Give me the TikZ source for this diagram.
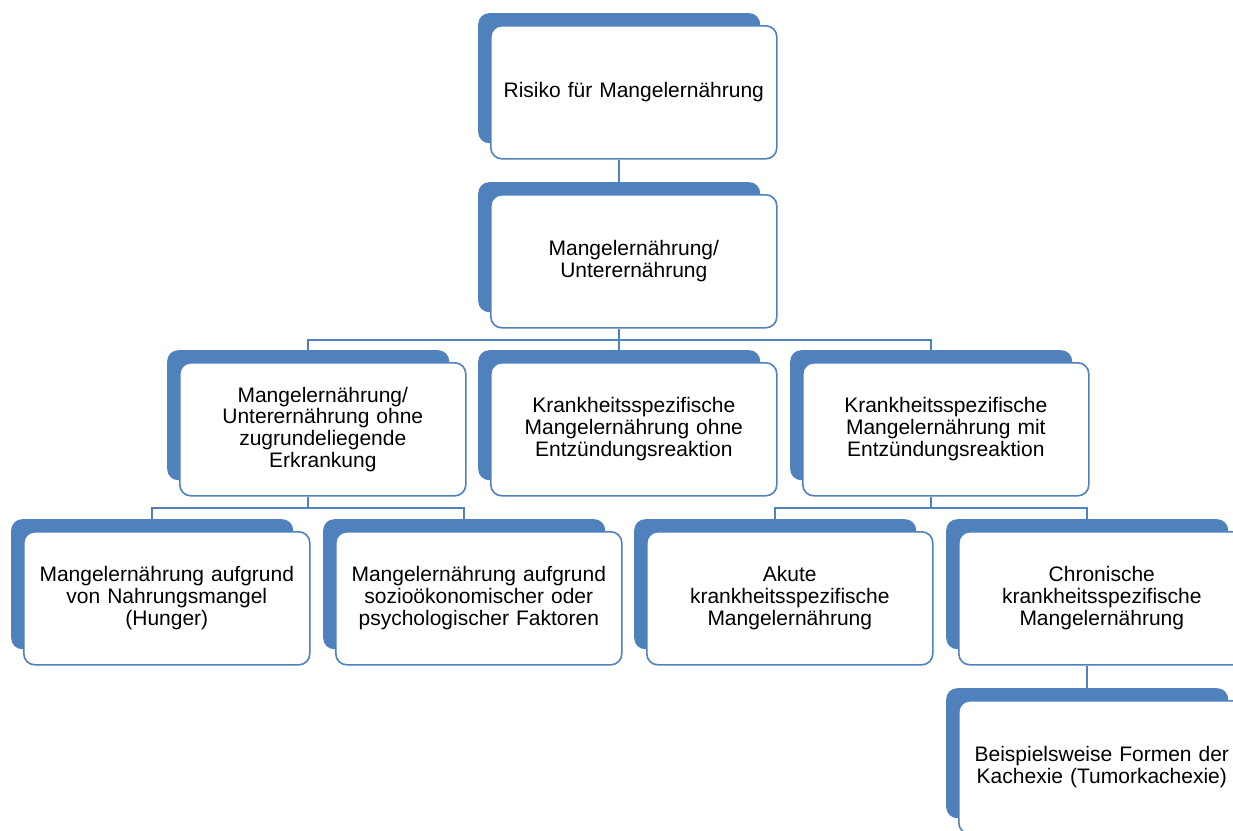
\documentclass[tikz,border=0pt]{standalone}
\usepackage{fontspec}
\setmainfont{Liberation Sans}
\definecolor{accblue}{HTML}{4F81BD}
\tikzset{
  backbox/.style={fill=accblue, draw=none, rounded corners=11pt, minimum width=282pt, minimum height=130pt, anchor=north west, inner sep=0pt},
  frontbox/.style={fill=white, draw=accblue, line width=1.6pt, rounded corners=11pt, minimum width=286pt, minimum height=133pt, anchor=north west, inner sep=0pt, align=center, text width=264pt, font=\fontsize{21}{21.8}\selectfont},
  conn/.style={draw=accblue, line width=1.8pt}
}
\newcommand\mkbox[4]{%
  \node[backbox] (#1b) at ({#2pt-12pt},{-#3pt+12pt}) {};
  \node[frontbox] (#1) at (#2pt,-#3pt) {#4};
}
\begin{document}
\begin{tikzpicture}
\useasboundingbox (0,0) rectangle (1233pt,-830pt);
\mkbox{top}{490}{25}{Risiko für Mangelernährung}
\mkbox{mu}{490}{194}{Mangelernährung/\\Unterernährung}
\mkbox{a}{179}{362}{Mangelernährung/\\Unterernährung ohne\\zugrundeliegende\\Erkrankung}
\mkbox{b}{490}{362}{Krankheitsspezifische\\Mangelernährung ohne\\Entzündungsreaktion}
\mkbox{c}{802}{362}{Krankheitsspezifische\\Mangelernährung mit\\Entzündungsreaktion}
\mkbox{d}{23}{531}{Mangelernährung aufgrund\\von Nahrungsmangel\\(Hunger)}
\mkbox{e}{335}{531}{Mangelernährung aufgrund\\sozioökonomischer oder\\psychologischer Faktoren}
\mkbox{f}{646}{531}{Akute\\krankheitsspezifische\\Mangelernährung}
\mkbox{g}{958}{531}{Chronische\\krankheitsspezifische\\Mangelernährung}
\mkbox{h}{958}{700}{Beispielsweise\ Formen der\\Kachexie\ (Tumorkachexie)}
\draw[conn] (top.south -| topb.center) -- (mub.north);
\draw[conn] (mu.south -| mub.center) -- ++(0,-11pt) coordinate (j1);
\draw[conn] (ab.north) |- (j1) -| (cb.north);
\draw[conn] (j1) -- (bb.north);
\draw[conn] (a.south -| ab.center) -- ++(0,-11pt) coordinate (j2);
\draw[conn] (db.north) |- (j2) -| (eb.north);
\draw[conn] (c.south -| cb.center) -- ++(0,-11pt) coordinate (j3);
\draw[conn] (fb.north) |- (j3) -| (gb.north);
\draw[conn] (g.south -| gb.center) -- (hb.north);
\end{tikzpicture}
\end{document}
